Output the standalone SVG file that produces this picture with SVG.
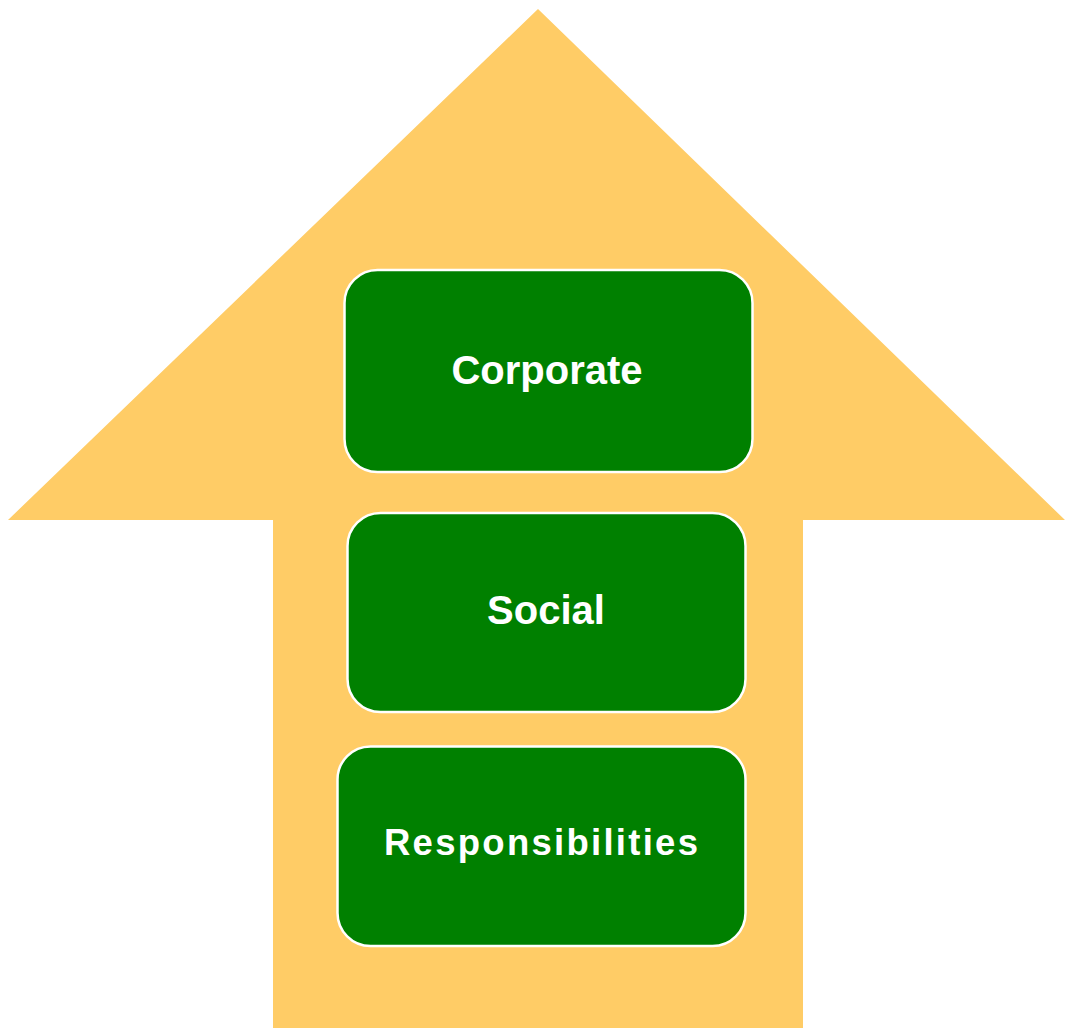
<svg xmlns="http://www.w3.org/2000/svg" width="1065" height="1028" viewBox="0 0 1065 1028">
<style>
.box{fill:#008000;stroke:#ffffff;stroke-width:2.5}
.lbl{fill:#ffffff;font-family:"Liberation Sans",Arial,sans-serif;font-weight:bold;font-size:40px;text-anchor:middle}
</style>
<rect width="1065" height="1028" fill="#ffffff"/>
<g id="arrow">
<polygon points="538,9 1065,520 803,520 803,1028 273,1028 273,520 8,520" fill="#FFCC66"/>
</g>
<g id="connectors"></g>
<g id="node-corporate">
<rect class="box" x="344.5" y="270" width="408" height="202" rx="33" ry="33"/>
<text class="lbl" x="547" y="383.5">Corporate</text>
</g>
<g id="node-social">
<rect class="box" x="347.5" y="513" width="398" height="199" rx="33" ry="33"/>
<text class="lbl" x="546" y="624">Social</text>
</g>
<g id="node-responsibilities">
<rect class="box" x="337.5" y="746.5" width="408" height="199.5" rx="33" ry="33"/>
<text class="lbl" x="541" y="855" style="font-size:36.5px" textLength="314" lengthAdjust="spacing">Responsibilities</text>
</g>
</svg>
